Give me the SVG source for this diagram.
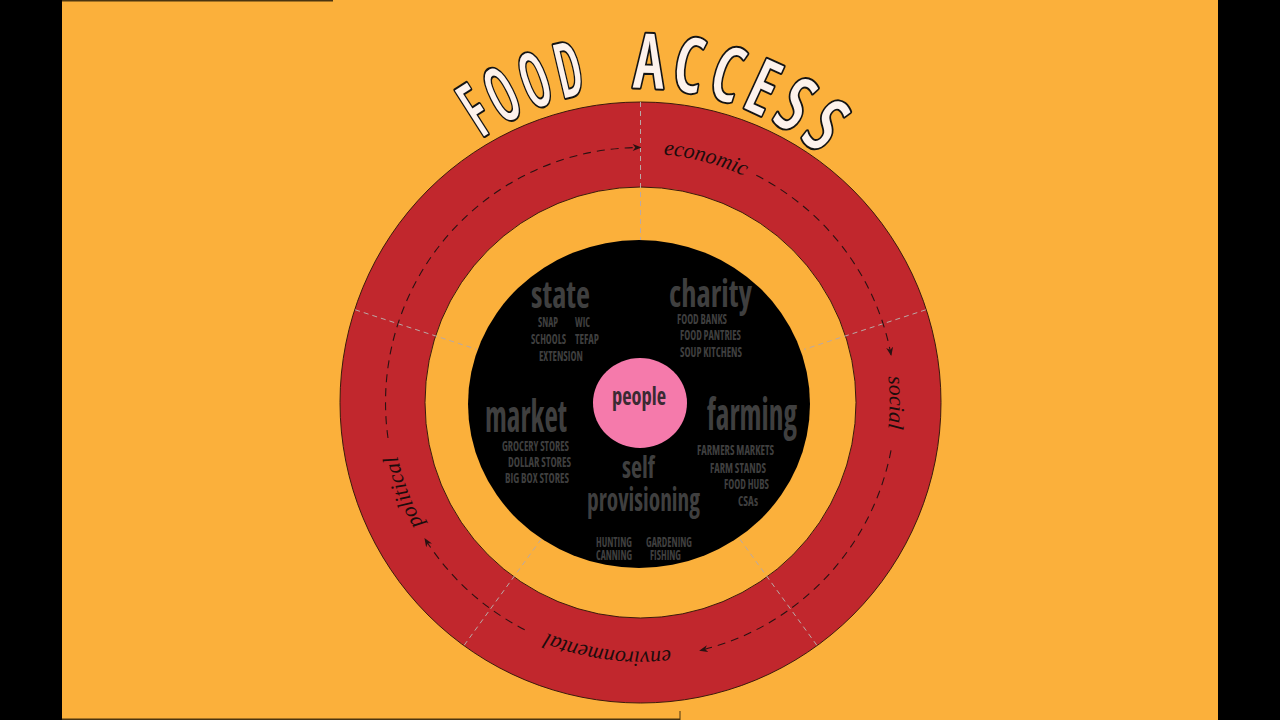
<svg xmlns="http://www.w3.org/2000/svg" width="1280" height="720" viewBox="0 0 1280 720">
<defs>
<style>
.ring-label{font-family:"Liberation Serif","DejaVu Serif",serif;font-style:italic;font-size:22px;fill:#1c0c0c}
.big{font-family:"Open Sans","Liberation Sans",sans-serif;font-stretch:75%;font-weight:700;fill:#3f3f3f}
.small{font-family:"Open Sans","Liberation Sans",sans-serif;font-stretch:75%;font-weight:700;font-size:15px;fill:#3f3f3f}
.divider{stroke:#b9a9a6;stroke-width:1;stroke-dasharray:5 4;fill:none}
.flow{stroke:#2a1212;stroke-width:1.1;stroke-dasharray:8 6;fill:none;marker-end:url(#arrow)}
.title{font-family:"Open Sans","Liberation Sans",sans-serif;font-stretch:75%;font-weight:600;font-size:76px;letter-spacing:8.5px;fill:#fdf2ec;stroke:#141414;stroke-width:4;paint-order:stroke;stroke-linejoin:round}
.edge{stroke:#3c1a0c;stroke-width:1}
</style>
<marker id="arrow" viewBox="0 0 10 8" refX="9" refY="4" markerWidth="9" markerHeight="7" markerUnits="userSpaceOnUse" orient="auto"><path d="M0,0 L10,4 L0,8 L3,4 z" fill="#2a1212"/></marker>
<path id="labelCircle" d="M 640.5 153.5 A 249 249 0 1 1 640.5 651.5 A 249 249 0 1 1 640.5 153.5"/>
<path id="titleArc" d="M 401 226 A 276 276 0 0 1 879 226"/>
</defs>

<g id="background">
<rect width="1280" height="720" fill="#000"/>
<rect x="62" y="0" width="1156" height="720" fill="#fbb03b"/>
<line x1="62" y1="0.75" x2="333" y2="0.75" stroke="#4a3410" stroke-width="1.5"/>
<line x1="62" y1="719.25" x2="680" y2="719.25" stroke="#4a3410" stroke-width="1.5"/>
<line x1="680" y1="711" x2="680" y2="720" stroke="#4a3410" stroke-width="1"/>
</g>

<g id="ring">
<circle cx="640.5" cy="402.5" r="300.5" fill="#c1272d" class="edge"/>
<circle cx="640.5" cy="402.5" r="215.5" fill="#fbb03b" class="edge"/>
</g>

<g id="dividers">
<line class="divider" x1="640.5" y1="102" x2="640.5" y2="242"/>
<line class="divider" x1="925.8" y1="309.8" x2="804.1" y2="349.4"/>
<line class="divider" x1="816.8" y1="645.2" x2="739.3" y2="538.4"/>
<line class="divider" x1="464.2" y1="645.2" x2="541.7" y2="538.4"/>
<line class="divider" x1="355.2" y1="309.8" x2="476.9" y2="349.4"/>
</g>

<g id="connectors">
<path class="flow" d="M 388.0 438.0 A 255 255 0 0 1 640.5 147.5"/>
<path class="flow" d="M 756.3 175.3 A 255 255 0 0 1 891.1 355.1"/>
<path class="flow" d="M 891.0 450.3 A 255 255 0 0 1 700.0 650.5"/>
<path class="flow" d="M 524.7 629.7 A 255 255 0 0 1 424.9 538.8"/>
</g>

<g id="ring-labels">
<text class="ring-label"><textPath href="#labelCircle" startOffset="65.2" text-anchor="middle">economic</textPath></text>
<text class="ring-label"><textPath href="#labelCircle" startOffset="391.1" text-anchor="middle">social</textPath></text>
<text class="ring-label"><textPath href="#labelCircle" startOffset="815.1" text-anchor="middle">environmental</textPath></text>
<text class="ring-label"><textPath href="#labelCircle" startOffset="1082.6" text-anchor="middle">political</textPath></text>
</g>

<g id="title">
<text class="title"><textPath href="#titleArc" startOffset="180.5" text-anchor="middle" textLength="121" lengthAdjust="spacingAndGlyphs">FOOD</textPath> <textPath href="#titleArc" startOffset="386.5" text-anchor="middle" textLength="210" lengthAdjust="spacingAndGlyphs">ACCESS</textPath></text>
</g>

<g id="core">
<ellipse cx="639" cy="404" rx="171" ry="164" fill="#000"/>
</g>

<g id="node-state">
<text class="big" x="531" y="308" font-size="37" textLength="59" lengthAdjust="spacingAndGlyphs">state</text>
<text class="small" x="538" y="327" textLength="20" lengthAdjust="spacingAndGlyphs">SNAP</text>
<text class="small" x="575" y="327" textLength="15" lengthAdjust="spacingAndGlyphs">WIC</text>
<text class="small" x="531" y="344" textLength="35" lengthAdjust="spacingAndGlyphs">SCHOOLS</text>
<text class="small" x="575" y="344" textLength="24" lengthAdjust="spacingAndGlyphs">TEFAP</text>
<text class="small" x="539" y="361" textLength="44" lengthAdjust="spacingAndGlyphs">EXTENSION</text>
</g>

<g id="node-charity">
<text class="big" x="669" y="307" font-size="37" textLength="83" lengthAdjust="spacingAndGlyphs">charity</text>
<text class="small" x="677" y="324" textLength="50" lengthAdjust="spacingAndGlyphs">FOOD BANKS</text>
<text class="small" x="680" y="340" textLength="61" lengthAdjust="spacingAndGlyphs">FOOD PANTRIES</text>
<text class="small" x="680" y="357" textLength="62" lengthAdjust="spacingAndGlyphs">SOUP KITCHENS</text>
</g>

<g id="node-market">
<text class="big" x="485" y="432" font-size="45" textLength="82" lengthAdjust="spacingAndGlyphs">market</text>
<text class="small" x="502" y="451" textLength="67" lengthAdjust="spacingAndGlyphs">GROCERY STORES</text>
<text class="small" x="508" y="467" textLength="63" lengthAdjust="spacingAndGlyphs">DOLLAR STORES</text>
<text class="small" x="505" y="483" textLength="64" lengthAdjust="spacingAndGlyphs">BIG BOX STORES</text>
</g>

<g id="node-farming">
<text class="big" x="707" y="430" font-size="44" textLength="90" lengthAdjust="spacingAndGlyphs">farming</text>
<text class="small" x="697" y="455" textLength="77" lengthAdjust="spacingAndGlyphs">FARMERS MARKETS</text>
<text class="small" x="710" y="473" textLength="56" lengthAdjust="spacingAndGlyphs">FARM STANDS</text>
<text class="small" x="724" y="489" textLength="45" lengthAdjust="spacingAndGlyphs">FOOD HUBS</text>
<text class="small" x="738" y="506" textLength="20" lengthAdjust="spacingAndGlyphs">CSAs</text>
</g>

<g id="node-self-provisioning">
<text class="big" x="622" y="478" font-size="31" textLength="33" lengthAdjust="spacingAndGlyphs">self</text>
<text class="big" x="587" y="511" font-size="32" textLength="113" lengthAdjust="spacingAndGlyphs">provisioning</text>
<text class="small" x="596" y="547" textLength="36" lengthAdjust="spacingAndGlyphs">HUNTING</text>
<text class="small" x="646" y="547" textLength="46" lengthAdjust="spacingAndGlyphs">GARDENING</text>
<text class="small" x="596" y="560" textLength="36" lengthAdjust="spacingAndGlyphs">CANNING</text>
<text class="small" x="650" y="560" textLength="31" lengthAdjust="spacingAndGlyphs">FISHING</text>
</g>

<g id="node-people">
<ellipse cx="640" cy="403" rx="47" ry="45" fill="#f57aab"/>
<text class="big" x="612" y="405" font-size="24" textLength="54" lengthAdjust="spacingAndGlyphs" style="fill:#3b2a33">people</text>
</g>
</svg>
